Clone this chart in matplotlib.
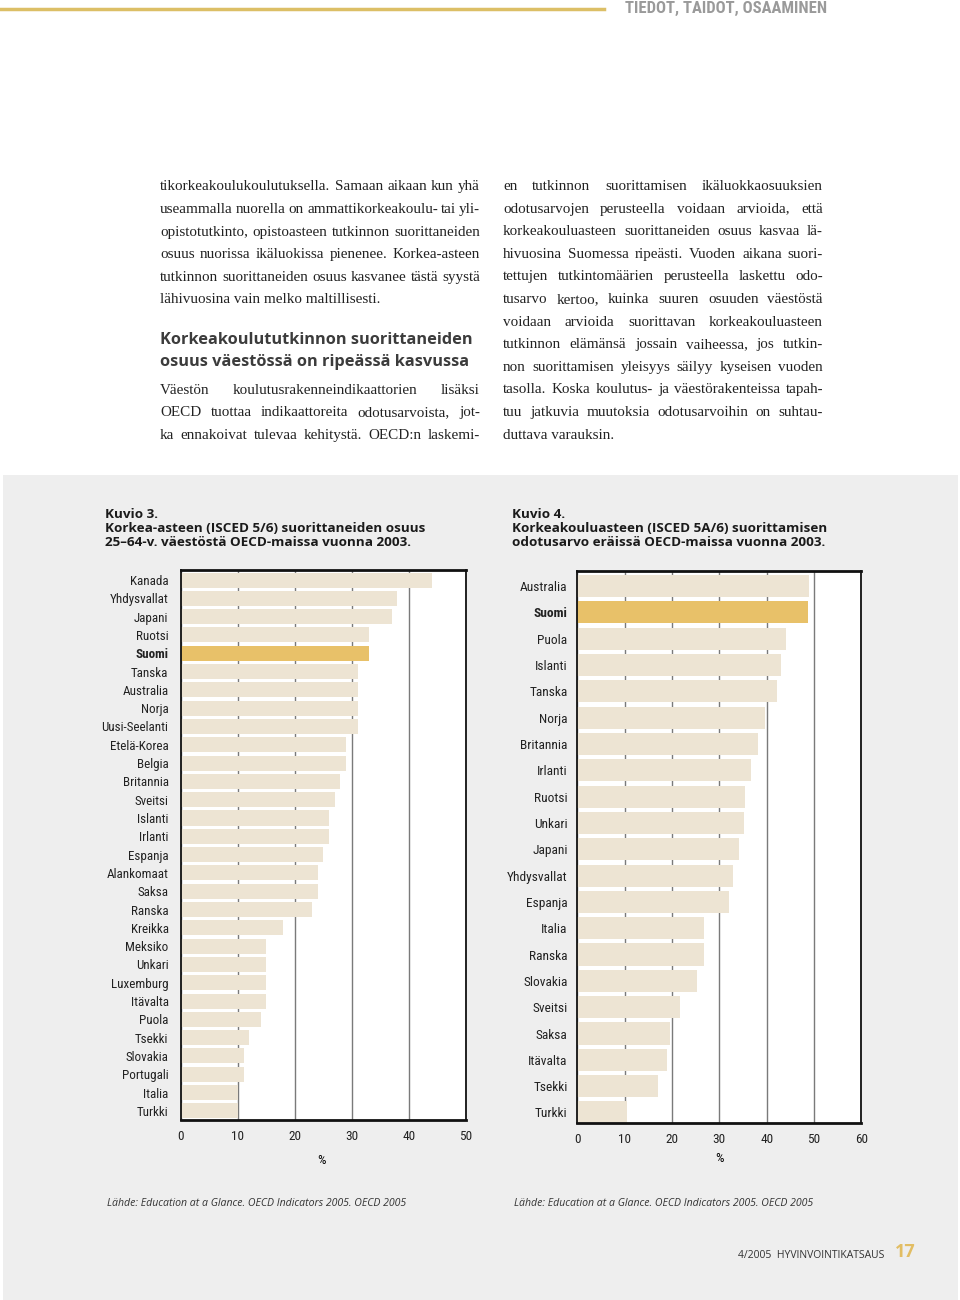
import matplotlib
matplotlib.use('Agg')
import matplotlib.pyplot as plt
from matplotlib import font_manager
from matplotlib.patches import Rectangle
from matplotlib.lines import Line2D

# Kuvio 3: osuus 25-64-v. vaestosta (%)
k3_maat = ['Kanada', 'Yhdysvallat', 'Japani', 'Ruotsi', 'Suomi', 'Tanska', 'Australia',
           'Norja', 'Uusi-Seelanti', 'Etelä-Korea', 'Belgia', 'Britannia', 'Sveitsi',
           'Islanti', 'Irlanti', 'Espanja', 'Alankomaat', 'Saksa', 'Ranska', 'Kreikka',
           'Meksiko', 'Unkari', 'Luxemburg', 'Itävalta', 'Puola', 'Tsekki', 'Slovakia',
           'Portugali', 'Italia', 'Turkki']
k3_arvot = [44, 38, 37, 33, 33, 31, 31, 31, 31, 29, 29, 28, 27, 26, 26, 25, 24, 24, 23,
            18, 15, 15, 15, 15, 14, 12, 11, 11, 10, 10]

# Kuvio 4: suorittamisen odotusarvo (%)
k4_maat = ['Australia', 'Suomi', 'Puola', 'Islanti', 'Tanska', 'Norja', 'Britannia',
           'Irlanti', 'Ruotsi', 'Unkari', 'Japani', 'Yhdysvallat', 'Espanja', 'Italia',
           'Ranska', 'Slovakia', 'Sveitsi', 'Saksa', 'Itävalta', 'Tsekki', 'Turkki']
k4_arvot = [49.0, 48.7, 44.1, 43.1, 42.2, 39.7, 38.2, 36.8, 35.4, 35.2, 34.2, 32.9,
            32.1, 26.7, 26.7, 25.2, 21.6, 19.5, 18.9, 17.0, 10.4]

vasen = ['tikorkeakoulukoulutuksella. Samaan aikaan kun yhä',
         'useammalla nuorella on ammattikorkeakoulu- tai yli-',
         'opistotutkinto, opistoasteen tutkinnon suorittaneiden',
         'osuus nuorissa ikäluokissa pienenee. Korkea-asteen',
         'tutkinnon suorittaneiden osuus kasvanee tästä syystä',
         'lähivuosina vain melko maltillisesti.']
otsikko = ['Korkeakoulututkinnon suorittaneiden', 'osuus väestössä on ripeässä kasvussa']
vasen2 = ['Väestön koulutusrakenneindikaattorien lisäksi',
          'OECD tuottaa indikaattoreita odotusarvoista, jot-',
          'ka ennakoivat tulevaa kehitystä. OECD:n laskemi-']
oikea = ['en tutkinnon suorittamisen ikäluokkaosuuksien',
         'odotusarvojen perusteella voidaan arvioida, että',
         'korkeakouluasteen suorittaneiden osuus kasvaa lä-',
         'hivuosina Suomessa ripeästi. Vuoden aikana suori-',
         'tettujen tutkintomäärien perusteella laskettu odo-',
         'tusarvo kertoo, kuinka suuren osuuden väestöstä',
         'voidaan arvioida suorittavan korkeakouluasteen',
         'tutkinnon elämänsä jossain vaiheessa, jos tutkin-',
         'non suorittamisen yleisyys säilyy kyseisen vuoden',
         'tasolla. Koska koulutus- ja väestörakenteissa tapah-',
         'tuu jatkuvia muutoksia odotusarvoihin on suhtau-',
         'duttava varauksin.']

# look for a narrow sans (with a bold face) for the chart labels
painot = {}
for f in font_manager.fontManager.ttflist:
    if 'Narrow' in f.name or 'Condensed' in f.name:
        w = f.weight
        if isinstance(w, str):
            w = font_manager.weight_dict.get(w, 400)
        painot.setdefault(f.name, set()).add(w)
narrow = 'Roboto'
for nimi in ['Liberation Sans Narrow', 'Roboto Condensed', 'Open Sans Condensed'] + \
        sorted(painot):
    p = painot.get(nimi, set())
    if any(w >= 600 for w in p) and any(350 <= w < 600 for w in p):
        narrow = nimi
        break
serif = 'Liberation Serif'
sans = 'Open Sans'

beige = '#ede4d3'
gold = '#e8c169'

fig = plt.figure(figsize=(9.6, 13), dpi=100)
fig.patch.set_facecolor('white')
renderer = fig.canvas.get_renderer()


def X(px):
    return px / 960


def Y(py):
    return 1 - py / 1300


def rivi(x0, x1, y, s, tasaa, fontsize, **kw):
    # one justified line of body text, y = baseline in pixels
    sanat = s.split(' ')
    if not tasaa or len(sanat) == 1:
        fig.text(X(x0), Y(y), s, ha='left', va='baseline', fontsize=fontsize, **kw)
        return
    fs = fontsize
    while True:
        ts = [fig.text(0, Y(y), w, ha='left', va='baseline', fontsize=fs, **kw)
              for w in sanat]
        lev = [t.get_window_extent(renderer).width for t in ts]
        vali = (x1 - x0 - sum(lev)) / (len(sanat) - 1)
        if vali >= 2.2:
            break
        for t in ts:
            t.remove()
        fs *= 0.99
    x = x0
    for t, w in zip(ts, lev):
        t.set_x(X(x))
        x += w + vali


# grey panel + header
fig.patches.append(Rectangle((X(3), 0), X(955), 825 / 1300, transform=fig.transFigure,
                             facecolor='#eeeeee', edgecolor='none', zorder=-1))
fig.lines.append(Line2D([0, X(604)], [Y(9), Y(9)], transform=fig.transFigure,
                        color='#dcbf66', lw=2.5))
fig.text(X(625), Y(8.5), 'TIEDOT, TAIDOT, OSAAMINEN', ha='left', va='center',
         color='#9a9a9a', fontweight='bold', family=narrow, fontsize=12)

# body text
tk = dict(family=serif, color='#222222')
fsb = 10.9
yy = [186, 209, 232, 254, 277, 299]
for i, s in enumerate(vasen):
    rivi(160, 480, yy[i] + 4, s, i < len(vasen) - 1, fsb, **tk)
for i, s in enumerate(otsikko):
    fig.text(X(160), Y([339, 361][i] + 5), s, ha='left', va='baseline', family=sans,
             fontweight='bold', fontsize=11.8, color='#3c3c3c')
for i, s in enumerate(vasen2):
    rivi(160, 480, [390, 412, 435][i] + 4, s, True, fsb, **tk)
for i, s in enumerate(oikea):
    rivi(503, 823, 186 + i * 22.6 + 4, s, i < len(oikea) - 1, fsb, **tk)

# chart titles
for x0, rivit in [(105, ['Kuvio 3.', 'Korkea-asteen (ISCED 5/6) suorittaneiden osuus',
                         '25–64-v. väestöstä OECD-maissa vuonna 2003.']),
                  (512, ['Kuvio 4.', 'Korkeakouluasteen (ISCED 5A/6) suorittamisen',
                         'odotusarvo eräissä OECD-maissa vuonna 2003.'])]:
    for i, s in enumerate(rivit):
        fig.text(X(x0), Y(514 + i * 14.5), s, ha='left', va='center', family=sans,
                 fontweight='bold', fontsize=9.7, color='#1a1a1a')


def kuvio(rect, maat, arvot, xmax, ylim, korkeus, pad, koko):
    ax = fig.add_axes(rect)
    pos = list(range(len(maat)))
    varit = [gold if m == 'Suomi' else beige for m in maat]
    ax.barh(pos, arvot, height=korkeus, color=varit, zorder=2)
    ax.set_xlim(0, xmax)
    ax.set_ylim(*ylim)
    ax.set_facecolor('white')
    ax.set_axisbelow(True)
    ax.grid(axis='x', color='#7a7a7a', lw=1.0)
    ax.set_xticks(range(0, xmax + 1, 10))
    ax.set_yticks(pos, maat)
    ax.tick_params(axis='y', length=0, pad=pad, labelsize=koko, labelcolor='#222222')
    ax.tick_params(axis='x', length=0, pad=7, labelsize=9.5, labelcolor='#222222')
    for lab in ax.get_yticklabels() + ax.get_xticklabels():
        lab.set_family(narrow)
        if lab.get_text() == 'Suomi':
            lab.set_fontweight('bold')
    ax.spines['top'].set_linewidth(2)
    ax.spines['bottom'].set_linewidth(2)
    ax.spines['left'].set_linewidth(1.3)
    ax.spines['right'].set_linewidth(1.3)
    for sp in ax.spines.values():
        sp.set_color('#111111')
    return ax


kuvio([X(181), Y(1120), X(284.7), 550 / 1300], k3_maat, k3_arvot, 50,
      (29.5, -0.55), 0.82, 9, 9.4)
kuvio([X(577.3), Y(1123), X(284), 552 / 1300], k4_maat, k4_arvot, 60,
      (20.4, -0.57), 0.84, 7, 9.6)

fig.text(X(322), Y(1161), '%', ha='center', va='center', family=narrow, fontsize=9.5)
fig.text(X(719), Y(1158), '%', ha='center', va='center', family=narrow, fontsize=9.5)

lahde = 'Lähde: Education at a Glance. OECD Indicators 2005. OECD 2005'
fig.text(X(107), Y(1204), lahde, ha='left', va='center', family=sans, style='italic',
         fontsize=7.6, color='#333333')
fig.text(X(514), Y(1204), lahde, ha='left', va='center', family=sans, style='italic',
         fontsize=7.6, color='#333333')

fig.text(X(884), Y(1255), '4/2005  HYVINVOINTIKATSAUS', ha='right', va='center',
         family=sans, fontsize=7.5, color='#333333')
fig.text(X(895), Y(1252), '17', ha='left', va='center', family=sans, fontweight='bold',
         fontsize=13, color='#e2bd63')

fig.savefig('out.png', dpi=100, facecolor='white')
